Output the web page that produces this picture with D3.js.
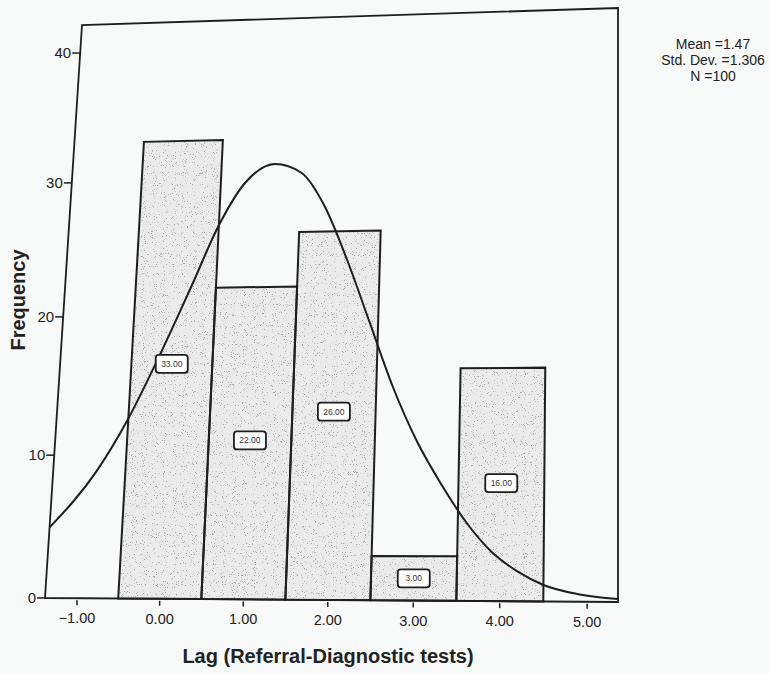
<!DOCTYPE html>
<html>
<head>
<meta charset="utf-8">
<script src="https://cdn.jsdelivr.net/npm/d3@7"></script>
<style>
  body { margin: 0; background: #f8f9f9; }
  svg { display: block; font-family: "Liberation Sans", Arial, sans-serif; }
</style>
</head>
<body>
<svg width="770" height="673"></svg>
<script>
// histogram data (SPSS output, scanned)
const binCenters = [0, 1, 2, 3, 4];
const frequencies = [33, 22, 26, 3, 16];
const barLabels = ['33.00', '22.00', '26.00', '3.00', '16.00'];
const xTicks = [-1, 0, 1, 2, 3, 4, 5];
const yTicks = [0, 10, 20, 30, 40];
// normal curve
const curveX = [-1.39, -0.85, -0.5, -0.15, 0.2, 0.5, 0.8, 1.17, 1.5, 1.8, 2.1, 2.4, 2.7, 3.0, 3.3, 3.6, 3.9, 4.2, 4.5, 4.9, 5.35];
const curveY = [4.9, 8.9, 12.6, 17.2, 22.2, 26.6, 29.7, 31.1, 30.4, 27.9, 23.9, 19.3, 14.7, 10.9, 7.9, 5.3, 3.3, 2.0, 1.1, 0.5, 0.2];
const stats = ['Mean =1.47', 'Std. Dev. =1.306', 'N =100'];

const svg = d3.select('svg');
const ink = '#1e1e1e';

const x = d3.scaleLinear().domain([-1.39, 5.35]).range([0, 1]);
const y = d3.scaleLinear().domain([0, 42.2]).range([0, 1]);

// the scanned page is in perspective: map the unit plot square onto the frame quad
const bl = [45, 598], br = [618, 602], tr = [618, 8], tl = [82, 25];
function quadMap(p0, p1, p2, p3) {
  const dx1 = p1[0] - p2[0], dx2 = p3[0] - p2[0], dx3 = p0[0] - p1[0] + p2[0] - p3[0];
  const dy1 = p1[1] - p2[1], dy2 = p3[1] - p2[1], dy3 = p0[1] - p1[1] + p2[1] - p3[1];
  const den = dx1 * dy2 - dx2 * dy1;
  const g = (dx3 * dy2 - dx2 * dy3) / den;
  const h = (dx1 * dy3 - dx3 * dy1) / den;
  const a = p1[0] - p0[0] + g * p1[0], b = p3[0] - p0[0] + h * p3[0], c = p0[0];
  const d = p1[1] - p0[1] + g * p1[1], e = p3[1] - p0[1] + h * p3[1], f = p0[1];
  return (u, v) => {
    const w = g * u + h * v + 1;
    return [(a * u + b * v + c) / w, (d * u + e * v + f) / w];
  };
}
const warp = quadMap(bl, br, tr, tl);
const P = (dx, dy) => warp(x(dx), y(dy));

const defs = svg.append('defs');
const grain = defs.append('filter').attr('id', 'grain');
grain.append('feTurbulence')
  .attr('type', 'fractalNoise')
  .attr('baseFrequency', 1.1)
  .attr('numOctaves', 2)
  .attr('seed', 7)
  .attr('result', 'noise');
grain.append('feColorMatrix')
  .attr('in', 'noise')
  .attr('type', 'matrix')
  .attr('values', '0 0 0 0 0.4  0 0 0 0 0.4  0 0 0 0 0.4  10 0 0 0 -6.3')
  .attr('result', 'dots');
grain.append('feComposite')
  .attr('in', 'dots')
  .attr('in2', 'SourceGraphic')
  .attr('operator', 'atop');

const bars = binCenters.map((c, i) => ({ c, f: frequencies[i], label: barLabels[i] }));
const barPoly = (d) => [P(d.c - 0.5, 0), P(d.c + 0.5, 0), P(d.c + 0.5, d.f), P(d.c - 0.5, d.f)];

// bars
svg.append('g')
  .selectAll('polygon')
  .data(bars)
  .join('polygon')
  .attr('points', d => barPoly(d).join(' '))
  .attr('fill', '#ebebeb')
  .attr('filter', 'url(#grain)');
svg.append('g')
  .selectAll('polygon')
  .data(bars)
  .join('polygon')
  .attr('points', d => barPoly(d).join(' '))
  .attr('fill', 'none')
  .attr('stroke', ink)
  .attr('stroke-width', 2);

// frame
const dom = x.domain(), rng = y.domain();
svg.append('polygon')
  .attr('points', [P(dom[0], 0), P(dom[1], 0), P(dom[1], rng[1]), P(dom[0], rng[1])].join(' '))
  .attr('fill', 'none')
  .attr('stroke', ink)
  .attr('stroke-width', 1.8);

// normal curve
const curvePts = curveX.map((cx, i) => P(cx, curveY[i]));
svg.append('path')
  .attr('d', d3.line().curve(d3.curveMonotoneX)(curvePts))
  .attr('fill', 'none')
  .attr('stroke', ink)
  .attr('stroke-width', 2);

// value labels in the middle of each bar
const lab = svg.append('g')
  .selectAll('g')
  .data(bars)
  .join('g')
  .attr('transform', d => `translate(${P(d.c, d.f / 2)})`);
lab.append('rect')
  .attr('x', -16).attr('y', -9)
  .attr('width', 32).attr('height', 18)
  .attr('rx', 3)
  .attr('fill', '#fff')
  .attr('stroke', ink)
  .attr('stroke-width', 1.8);
lab.append('text')
  .attr('text-anchor', 'middle')
  .attr('dy', '0.35em')
  .attr('font-size', 8.5)
  .attr('fill', '#333')
  .text(d => d.label);

// y axis ticks
const yt = svg.append('g')
  .selectAll('g')
  .data(yTicks)
  .join('g')
  .attr('transform', d => `translate(${P(dom[0], d)})`);
yt.append('line')
  .attr('x1', -8).attr('x2', 0)
  .attr('stroke', ink).attr('stroke-width', 1.5);
yt.append('text')
  .attr('x', -9)
  .attr('dy', '0.35em')
  .attr('text-anchor', 'end')
  .attr('font-size', 15)
  .attr('fill', '#222')
  .text(d => d);

// x axis ticks
const xt = svg.append('g')
  .selectAll('g')
  .data(xTicks)
  .join('g')
  .attr('transform', d => `translate(${P(d, 0)})`);
xt.append('line')
  .attr('y1', 2).attr('y2', 7)
  .attr('stroke', ink).attr('stroke-width', 1.5);
xt.append('text')
  .attr('y', 20)
  .attr('dy', '0.35em')
  .attr('text-anchor', 'middle')
  .attr('font-size', 14.5)
  .attr('fill', '#222')
  .text(d => d3.format('.2f')(d));

// axis titles
svg.append('text')
  .attr('transform', 'translate(25,300) rotate(-90)')
  .attr('text-anchor', 'middle')
  .attr('font-size', 20)
  .attr('font-weight', 'bold')
  .attr('fill', '#222')
  .text('Frequency');
svg.append('text')
  .attr('x', 328)
  .attr('y', 663)
  .attr('text-anchor', 'middle')
  .attr('font-size', 20)
  .attr('font-weight', 'bold')
  .attr('fill', '#222')
  .text('Lag (Referral-Diagnostic tests)');

// summary statistics
svg.append('g')
  .selectAll('text')
  .data(stats)
  .join('text')
  .attr('x', 713)
  .attr('y', (d, i) => 44 + i * 16)
  .attr('dy', '0.35em')
  .attr('text-anchor', 'middle')
  .attr('font-size', 14)
  .attr('fill', '#222')
  .text(d => d);
</script>
</body>
</html>
